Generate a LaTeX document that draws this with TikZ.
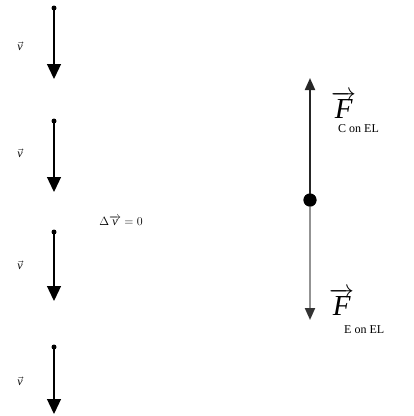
\documentclass[tikz,border=0pt]{standalone}
\usepackage{fontspec}
\setmainfont{Liberation Serif}
\usetikzlibrary{arrows.meta}
\begin{document}
\begin{tikzpicture}[x=1pt,y=-1pt,
  varrow/.style={line width=1.3pt,-{Triangle[width=14pt,length=15pt]}},
  farrow/.style={line width=2pt,-{Triangle[width=10pt,length=12pt]}},
  smalldot/.style={circle,fill=black,inner sep=0pt,minimum size=5pt},
  bigdot/.style={circle,fill=black,inner sep=0pt,minimum size=13pt},
  vlab/.style={font=\fontsize{12}{14}\selectfont,inner sep=0pt},
  flab/.style={anchor=base west,inner sep=0pt,font=\fontsize{29}{32}\selectfont},
  sublab/.style={anchor=base west,inner sep=0pt,font=\fontsize{12}{14}\selectfont}]
\useasboundingbox (0,0) rectangle (414,416);
\foreach \i/\yd/\yt/\yl in {1/8/79/46, 2/121/192/153, 3/232/301/265, 4/347/414/381}{
  \node[smalldot] (d\i) at (54,\yd) {};
  \coordinate (t\i) at (54,\yt);
  \draw[varrow] (d\i.center) -- (t\i);
  \node[vlab] (v\i) at (20,\yl) {$\vec{\textit{v}}$};
}
\node[vlab] (dv) at (121,221) {$\Delta\overrightarrow{\textit{v}}=0$};
\node[bigdot] (c) at (310,200) {};
\coordinate (ftop) at (310,78);
\coordinate (fbot) at (310,320);
\draw[farrow,black!85] (c.center) -- (ftop);
\draw[line width=2pt,gray!85,-{Triangle[width=10pt,length=12pt,color=black!80]}] (c.center) -- (fbot);
\node[bigdot] at (310,200) {};
\node[flab] (fc) at (331,118) {$\overrightarrow{\textit{F}}$};
\node[sublab] (fcs) at (338,132) {C on EL};
\node[flab] (fe) at (329,315) {$\overrightarrow{\textit{F}}$};
\node[sublab] (fes) at (344,333) {E on EL};
\end{tikzpicture}
\end{document}
